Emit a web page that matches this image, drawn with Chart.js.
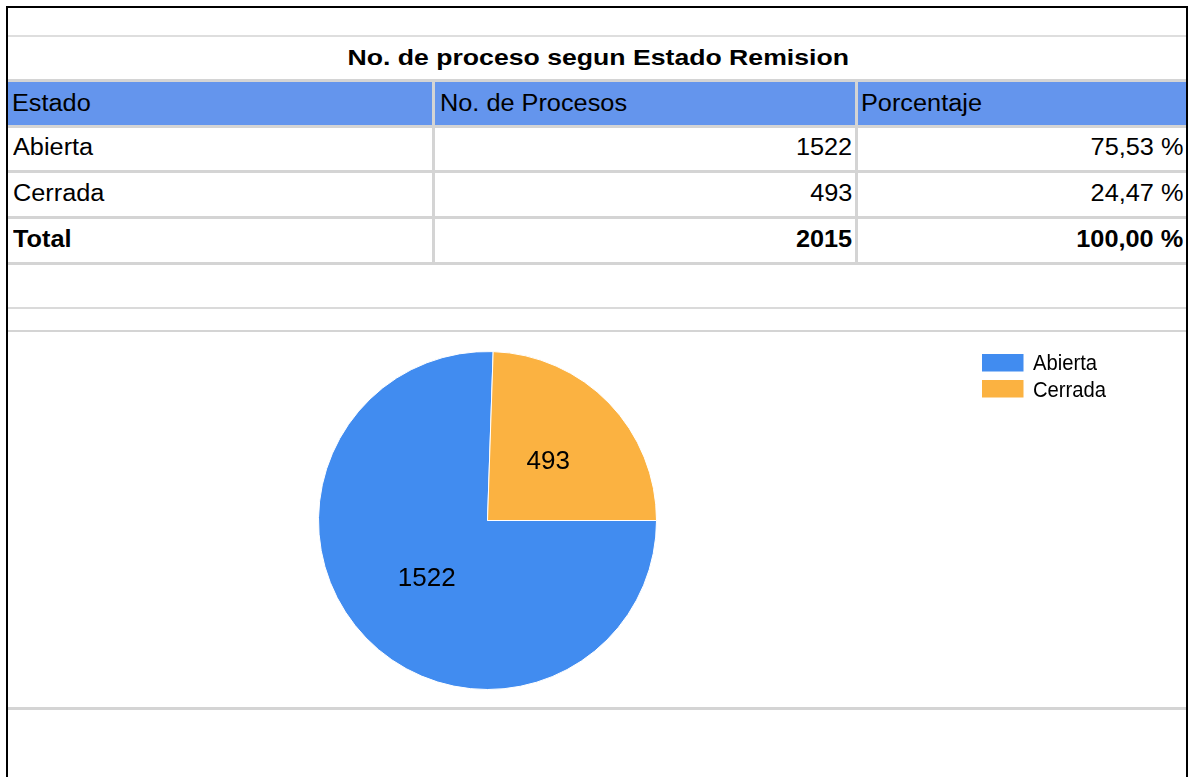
<!DOCTYPE html>
<html><head><meta charset="utf-8">
<script src="https://cdn.jsdelivr.net/npm/chart.js@4.4.1/dist/chart.umd.min.js"></script>
<style>
html,body{margin:0;padding:0;background:#fff;}
body{width:1197px;height:777px;position:relative;overflow:hidden;font-family:"Liberation Sans",Arial,sans-serif;color:#000;}
.blk{position:absolute;background:#000;}
.hl{position:absolute;left:8px;width:1178px;background:#d4d4d4;}
.vl{position:absolute;width:3px;background:#d4d4d4;}
.t{position:absolute;height:40px;line-height:40px;white-space:nowrap;font-size:23px;}
.t span{display:inline-block;}
</style></head><body>
<div id="root"></div>
<div id="chartBox" style="position:absolute;left:8px;top:332px;width:1178px;height:375px;">
<canvas id="pie" width="1178" height="375" style="width:1178px;height:375px;"></canvas>
</div>
<script>
const title = 'No. de proceso segun Estado Remision';
const headers = ['Estado', 'No. de Procesos', 'Porcentaje'];
const categories = ['Abierta', 'Cerrada'];
const procesos = [1522, 493];
const porcentajes = ['75,53 %', '24,47 %'];
const totalLabel = 'Total';
const totalProcesos = '2015';
const totalPorcentaje = '100,00 %';
const sliceColors = ['#418CF0', '#FBB241'];

const root = document.getElementById('root');
function box(cls, css) {
  const d = document.createElement('div');
  d.className = cls;
  d.style.cssText = css;
  root.appendChild(d);
  return d;
}
// outer black frame
box('blk', 'left:6px;top:6px;width:2px;height:771px;');
box('blk', 'left:6px;top:6px;width:1182px;height:2px;');
box('blk', 'left:1186px;top:6px;width:2px;height:771px;');
// header band
box('', 'position:absolute;left:8px;top:82px;width:1178px;height:43px;background:#6495ED;');
// horizontal grid lines
box('hl', 'top:35px;height:2px;background:#dedede;');
box('hl', 'top:79px;height:3px;');
box('hl', 'top:125px;height:3px;');
box('hl', 'top:170px;height:3px;');
box('hl', 'top:216px;height:2.5px;');
box('hl', 'top:262px;height:2.5px;');
box('hl', 'top:307px;height:2px;background:#dadada;');
box('hl', 'top:330px;height:2px;');
box('hl', 'top:707px;height:3px;');
// vertical separators
box('vl', 'left:432px;top:82px;height:181px;');
box('vl', 'left:855px;top:82px;height:181px;');

function text(str, opts) {
  const d = document.createElement('div');
  d.className = 't';
  const s = document.createElement('span');
  s.textContent = str;
  const sx = opts.sx || 1.1;
  if (opts.bold) s.style.fontWeight = 'bold';
  if (opts.size) d.style.fontSize = opts.size + 'px';
  d.style.top = (opts.cy - 20) + 'px';
  if (opts.align === 'center') {
    d.style.left = '0px'; d.style.width = '1197px'; d.style.textAlign = 'center';
    s.style.transform = 'scaleX(' + sx + ')'; s.style.transformOrigin = 'center center';
  } else if (opts.align === 'right') {
    d.style.right = (1197 - opts.x) + 'px'; d.style.textAlign = 'right';
    s.style.transform = 'scaleX(' + sx + ')'; s.style.transformOrigin = 'right center';
  } else {
    d.style.left = opts.x + 'px';
    s.style.transform = 'scaleX(' + sx + ')'; s.style.transformOrigin = 'left center';
  }
  d.appendChild(s);
  root.appendChild(d);
}
text(title, {align: 'center', cy: 57.5, bold: true, sx: 1.21, size: 22});
const colLeft = [11.5, 439.5, 861];
headers.forEach((h, i) => text(h, {x: colLeft[i], cy: 103}));
const rowCy = [147, 193, 239];
categories.forEach((c, i) => {
  text(c, {x: 12.5, cy: rowCy[i]});
  text(String(procesos[i]), {align: 'right', x: 852, cy: rowCy[i]});
  text(porcentajes[i], {align: 'right', x: 1183.5, cy: rowCy[i]});
});
text(totalLabel, {x: 12.5, cy: rowCy[2], bold: true});
text(totalProcesos, {align: 'right', x: 852, cy: rowCy[2], bold: true});
text(totalPorcentaje, {align: 'right', x: 1183.5, cy: rowCy[2], bold: true});

const valueLabels = {
  id: 'valueLabels',
  afterDatasetsDraw(chart) {
    const ctx = chart.ctx;
    const meta = chart.getDatasetMeta(0);
    const data = chart.data.datasets[0].data;
    ctx.save();
    ctx.fillStyle = '#000';
    ctx.font = '26px "Liberation Sans", Arial, sans-serif';
    ctx.textAlign = 'center';
    ctx.textBaseline = 'middle';
    meta.data.forEach((arc, i) => {
      const p = arc.tooltipPosition();
      ctx.fillText(String(data[i]), p.x, p.y);
    });
    ctx.restore();
  }
};
const sideLegend = {
  id: 'sideLegend',
  afterDraw(chart) {
    const ctx = chart.ctx;
    const labels = chart.data.labels;
    const bg = chart.data.datasets[0].backgroundColor;
    ctx.save();
    labels.forEach((lab, i) => {
      ctx.fillStyle = bg[i];
      ctx.fillRect(974, 22 + i * 26, 41.5, 17.5);
      ctx.fillStyle = '#000';
      ctx.font = '22px "Liberation Sans", Arial, sans-serif';
      ctx.textAlign = 'left';
      ctx.textBaseline = 'alphabetic';
      ctx.save();
      ctx.translate(1025, 38 + i * 26.5);
      ctx.scale(0.92, 1);
      ctx.fillText(lab, 0, 0);
      ctx.restore();
    });
    ctx.restore();
  }
};

new Chart(document.getElementById('pie'), {
  type: 'pie',
  data: {
    labels: categories,
    datasets: [{
      data: procesos,
      backgroundColor: sliceColors,
      borderColor: '#ffffff',
      borderWidth: 1,
      hoverOffset: 0,
      offset: 0
    }]
  },
  options: {
    responsive: false,
    devicePixelRatio: 1,
    animation: false,
    events: [],
    rotation: 90,
    layout: {padding: {left: 310, right: 529, top: 19, bottom: 17}},
    plugins: {legend: {display: false}, tooltip: {enabled: false}, title: {display: false}}
  },
  plugins: [valueLabels, sideLegend]
});
</script>
</body></html>
